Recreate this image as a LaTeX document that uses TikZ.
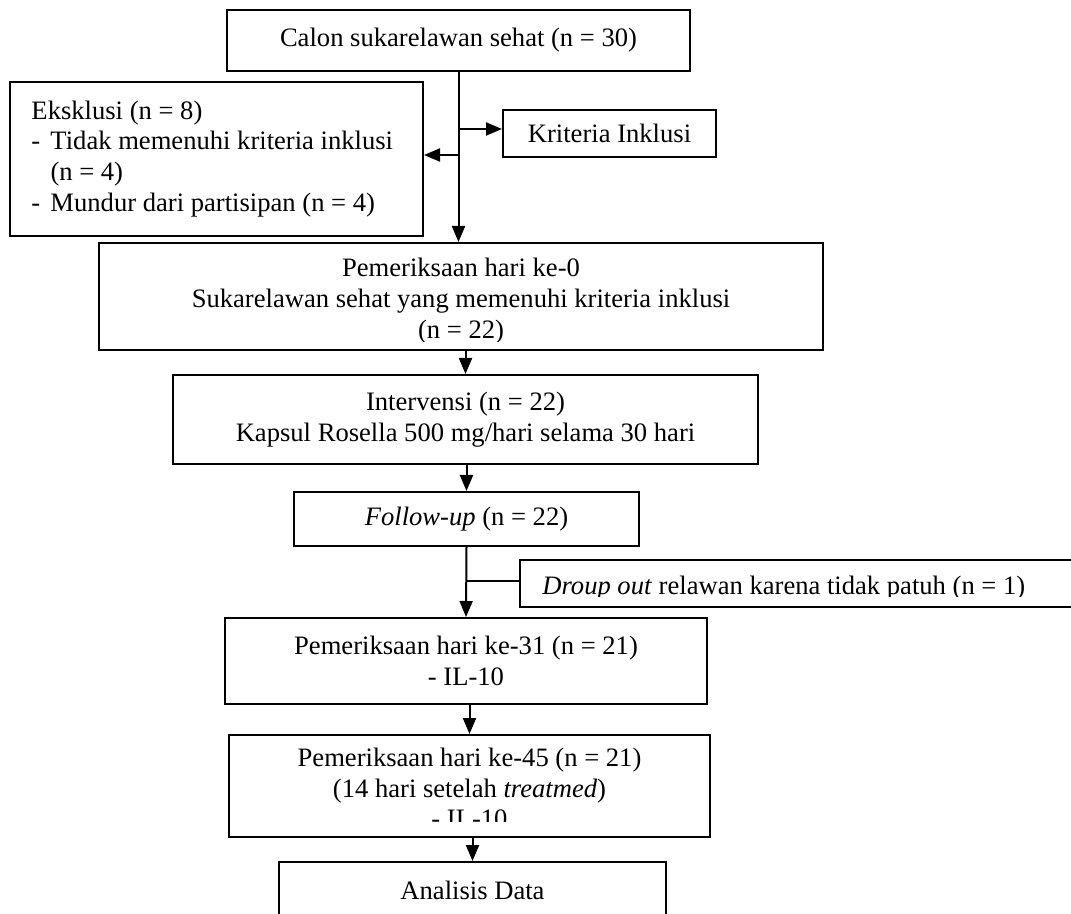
\documentclass[tikz,border=0pt]{standalone}
\usepackage{fontspec}
\setmainfont{Liberation Serif}
\usetikzlibrary{arrows.meta,positioning}

\begin{document}
\begin{tikzpicture}[
    x=0.5pt, y=-0.5pt,
    kotak/.style={draw, line width=1pt, inner sep=0pt, align=center, font=\fontsize{13.3}{15.4}\selectfont},
    teks/.style={inner sep=0pt, align=center, font=\fontsize{13.3}{15.4}\selectfont},
    panah/.style={-{Triangle[length=8pt,width=6.5pt]}, line width=1pt},
    garis/.style={line width=1pt}
]

\clip (0,0) rectangle (1071,914);

% Screening
\node[kotak, minimum width=231.5pt, minimum height=30.5pt] (calon) at (458.5,40.5) {Calon sukarelawan sehat (n = 30)};
\node[kotak, minimum width=206.5pt, minimum height=77pt, text width=185pt, align=flush left] (eksklusi) at (216.5,159) {Eksklusi (n = 8)\\\makebox[9.5pt][l]{-}Tidak memenuhi kriteria inklusi\\\hspace*{9.5pt}(n = 4)\\\makebox[9.5pt][l]{-}Mundur dari partisipan (n = 4)};
\node[kotak, minimum width=106.5pt, minimum height=23.5pt] (kriteria) at (609.5,133.5) {Kriteria Inklusi};

% Day 0
\node[kotak, minimum width=362pt, minimum height=53.5pt] (periksa0) at (461,296.5) {};
\begin{scope}
\clip (99,243) rectangle (823,342);
\node[teks] (periksa0teks) at (461,301) {Pemeriksaan hari ke-0\\Sukarelawan sehat yang memenuhi kriteria inklusi\\(n = 22)};
\end{scope}

% Intervention
\node[kotak, minimum width=292.5pt, minimum height=44.5pt] (intervensi) at (465.5,419.5) {Intervensi (n = 22)\\Kapsul Rosella 500 mg/hari selama 30 hari};
\node[kotak, minimum width=172.5pt, minimum height=27pt] (followup) at (466.5,519) {\textit{Follow-up} (n = 22)};
\node[kotak, minimum width=285pt, minimum height=23.5pt] (droup) at (805,583.5) {};
\begin{scope}
\clip (520,560) rectangle (1071,596);
\node[teks, anchor=west] (droupteks) at (542,588) {\textit{Droup out} relawan karena tidak patuh (n = 1)};
\end{scope}

% Measurements
\node[kotak, minimum width=241pt, minimum height=43pt] (periksa31) at (466,661) {Pemeriksaan hari ke-31 (n = 21)\\- IL-10};
\node[kotak, minimum width=240.5pt, minimum height=51pt] (periksa45) at (469.5,786) {};
\begin{scope}
\clip (229,735) rectangle (710,821);
\node[teks] (periksa45teks) at (469.5,788) {Pemeriksaan hari ke-45 (n = 21)\\(14 hari setelah \textit{treatmed})\\- IL-10};
\end{scope}
\node[kotak, minimum width=193.5pt, minimum height=28pt] (analisis) at (472.5,890) {Analisis Data};

% Connections
\draw[panah] (calon.south) -- (calon.south |- periksa0.north);
\draw[panah] ([yshift=2.25pt]kriteria.west -| calon.south) -- ([yshift=2.25pt]kriteria.west);
\draw[panah] ([yshift=2pt]eksklusi.east -| calon.south) -- ([yshift=2pt]eksklusi.east);
\draw[panah] (intervensi.north |- periksa0.south) -- (intervensi.north);
\draw[panah] (followup.north |- intervensi.south) -- (followup.north);
\draw[panah] (followup.south) -- (periksa31.north);
\draw[garis] ([yshift=1.25pt]droup.west -| followup.south) -- ([yshift=1.25pt]droup.west);
\draw[panah] (periksa45.north |- periksa31.south) -- (periksa45.north);
\draw[panah] (analisis.north |- periksa45.south) -- (analisis.north);

\end{tikzpicture}
\end{document}
